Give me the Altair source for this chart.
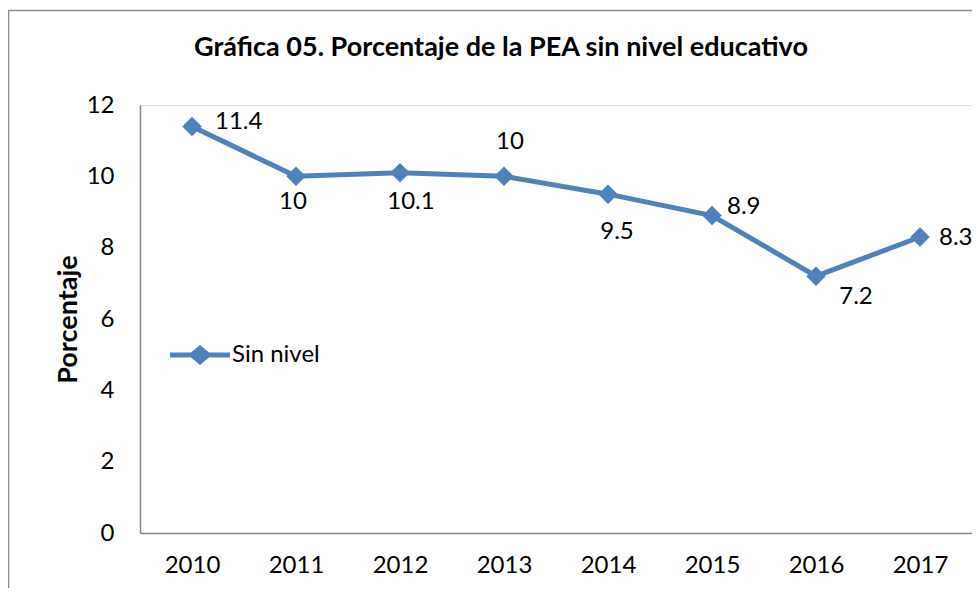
import altair as alt
import pandas as pd

years = ["2010", "2011", "2012", "2013", "2014", "2015", "2016", "2017"]
values = [11.4, 10, 10.1, 10, 9.5, 8.9, 7.2, 8.3]
series = ["Sin nivel"] * len(years)
title_text = "Gráfica 05. Porcentaje de la PEA sin nivel educativo"

df = pd.DataFrame({"year": years, "value": values, "serie": series})

FONT = "Lato"
BLUE = "#4F81BD"
FS = 24

x_enc = alt.X("year:O", title=None,
              scale=alt.Scale(paddingInner=1, paddingOuter=0.5),
              axis=alt.Axis(labelAngle=0, ticks=False, labelPadding=20, labelFontSize=FS,
                            labelFont=FONT, labelColor="#000000", domainColor="#868686",
                            domainWidth=1.5))
y_enc = alt.Y("value:Q", title="Porcentaje",
              scale=alt.Scale(domain=[0, 12], nice=False),
              axis=alt.Axis(values=[0, 2, 4, 6, 8, 10, 12], grid=False, ticks=False,
                            labelPadding=26, labelFontSize=FS, labelFont=FONT,
                            labelColor="#000000", domainColor="#868686", domainWidth=1.5,
                            titleFont=FONT, titleFontSize=27, titleFontWeight="bold",
                            titleColor="#000000", titlePadding=4))

base = alt.Chart(df)

frame = base.mark_rect(fill=None, stroke="#8c8c8c", strokeWidth=1.5).encode(
    x=alt.value(-131.5), x2=alt.value(900), y=alt.value(-94.5), y2=alt.value(600)
).transform_filter(alt.datum.year == "2010")

title = base.mark_text(text=title_text, font=FONT, fontSize=27, fontWeight="bold",
                       color="#000000", align="center", baseline="middle").encode(
    x=alt.value(361), y=alt.value(-57)
).transform_filter(alt.datum.year == "2010")

line = base.mark_line(color=BLUE, strokeWidth=5).encode(x=x_enc, y=y_enc)

legend_path = ("M-1,-0.085L-0.3,-0.085L0,-0.33L0.3,-0.085L1,-0.085L1,0.085"
               "L0.3,0.085L0,0.33L-0.3,0.085L-1,0.085Z")

points = base.mark_point(shape="diamond", filled=True, size=380, opacity=1).encode(
    x="year:O", y="value:Q",
    color=alt.Color("serie:N", scale=alt.Scale(range=[BLUE]),
                    legend=alt.Legend(title=None, orient="none", legendX=30, legendY=220,
                                      symbolType=legend_path, symbolSize=3600,
                                      symbolStrokeWidth=0, labelFont=FONT,
                                      labelFontSize=FS, labelColor="#000000",
                                      labelOffset=2, padding=0))
)

offsets = {
    "2010": (23, -4, "left"),
    "2011": (-3, 26, "center"),
    "2012": (11, 29, "center"),
    "2013": (6, -34, "center"),
    "2014": (9, 38, "center"),
    "2015": (15, -9, "left"),
    "2016": (40, 21, "center"),
    "2017": (19, 1, "left"),
}

text_layers = []
for yr, (dx, dy, al) in offsets.items():
    text_layers.append(
        base.mark_text(dx=dx, dy=dy, align=al, baseline="middle", font=FONT,
                       fontSize=FS, color="#000000").encode(
            x="year:O", y="value:Q", text=alt.Text("value:Q", format=".3~g")
        ).transform_filter(alt.datum.year == yr)
    )

chart = alt.layer(frame, title, line, points, *text_layers).properties(
    width=832, height=428,
    padding={"left": 132, "top": 97, "right": 0, "bottom": 55},
    autosize=alt.AutoSizeParams(type="none"),
).configure_view(stroke=None).configure(background="white")

chart.save("out.html", embed_options={"renderer": "svg", "actions": False})
